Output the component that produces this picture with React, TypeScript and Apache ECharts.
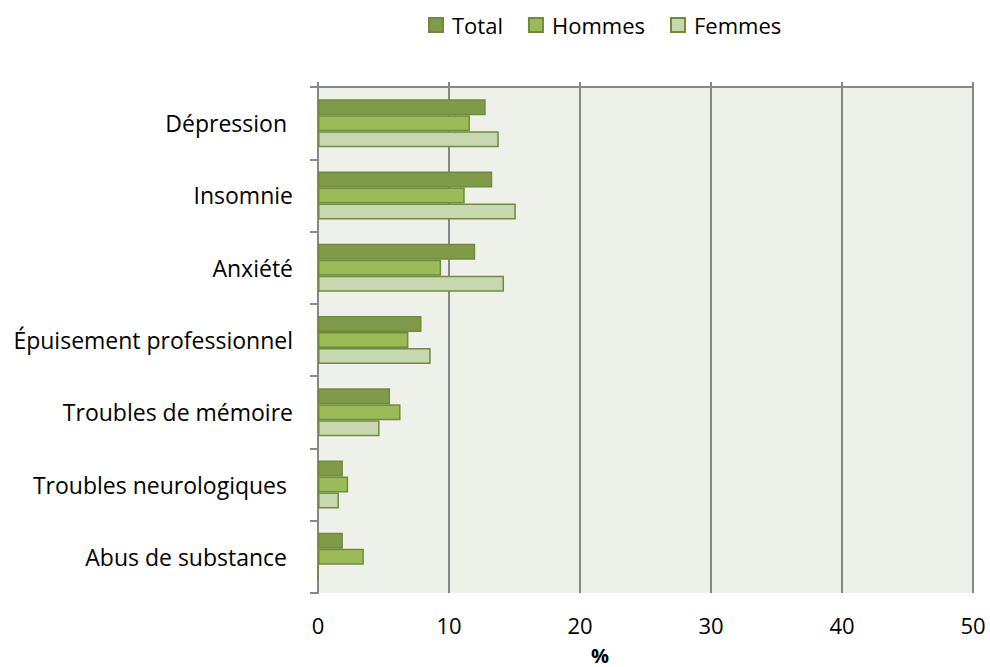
import React, { useEffect, useRef } from "react";
import * as echarts from "echarts";

const categories = [
  "Dépression",
  "Insomnie",
  "Anxiété",
  "Épuisement professionnel",
  "Troubles de mémoire",
  "Troubles neurologiques",
  "Abus de substance",
];
const totalValues = [12.8, 13.3, 12.0, 7.9, 5.5, 1.9, 1.9];
const hommesValues = [11.6, 11.2, 9.4, 6.9, 6.3, 2.3, 3.5];
const femmesValues = [13.8, 15.1, 14.2, 8.6, 4.7, 1.6, 0];
const seriesNames = ["Total", "Hommes", "Femmes"];
const xTicks = { min: 0, max: 50, interval: 10 };
const xName = "%";
const paddedLabels = ["Dépression", "Troubles neurologiques", "Abus de substance"];

const FONT = "'Open Sans', sans-serif";
const GRAY = "#878787";
const BORDER = "#6F8B3E";
const FS = 22;
const FSY = 23;

export default function App() {
  const ref = useRef<HTMLDivElement>(null);
  useEffect(() => {
    if (!ref.current) return;
    const chart = echarts.init(ref.current, undefined, { renderer: "svg" });
    const colors = ["#7F9A48", "#9BBB59", "#C7D7AF"];
    const data = [totalValues, hommesValues, femmesValues];
    chart.setOption({
      animation: false,
      textStyle: { fontFamily: FONT },
      legend: {
        top: 9,
        left: 423,
        itemWidth: 14,
        itemHeight: 14,
        itemGap: 25,
        icon: "rect",
        textStyle: { fontSize: FS, color: "#000", fontFamily: FONT, padding: [0, 0, 0, 4] },
        data: seriesNames,
      },
      grid: {
        left: 318,
        right: 17,
        top: 87,
        bottom: 74,
        show: true,
        backgroundColor: "#EEF1E9",
        borderWidth: 0,
      },
      xAxis: [
        {
          type: "value",
          min: xTicks.min,
          max: xTicks.max,
          interval: xTicks.interval,
          axisLine: { show: false },
          axisTick: { show: false },
          axisLabel: { fontSize: FS, color: "#000", margin: 21, fontFamily: FONT },
          splitLine: { show: true, lineStyle: { color: GRAY, width: 2 } },
        },
        {
          type: "value",
          position: "top",
          min: xTicks.min,
          max: xTicks.max,
          interval: xTicks.interval,
          axisLine: { show: true, lineStyle: { color: GRAY, width: 2 } },
          axisTick: { show: true, inside: false, length: 5, lineStyle: { color: GRAY, width: 2 } },
          axisLabel: { show: false },
          splitLine: { show: false },
        },
      ],
      yAxis: {
        type: "category",
        inverse: true,
        data: categories,
        axisLine: { show: true, lineStyle: { color: GRAY, width: 2 } },
        axisTick: { show: true, length: 8, lineStyle: { color: GRAY, width: 2 } },
        axisLabel: {
          fontSize: FSY,
          color: "#000",
          margin: 25,
          fontFamily: FONT,
          formatter: (v: string) => (paddedLabels.includes(v) ? `{p|${v}}` : v),
          rich: { p: { fontSize: FSY, color: "#000", fontFamily: FONT, padding: [0, 6, 0, 0] } },
        },
        splitLine: { show: false },
      },
      series: seriesNames.map((name, i) => ({
        name,
        type: "bar",
        xAxisIndex: 0,
        data: data[i],
        barWidth: 16,
        barGap: "0%",
        itemStyle: { color: colors[i], borderColor: BORDER, borderWidth: 1.5 },
      })),
      graphic: [
        {
          type: "text",
          x: 600,
          y: 655,
          style: {
            text: xName,
            fontSize: 20,
            fontWeight: "bold",
            fill: "#000",
            fontFamily: FONT,
            align: "center",
            verticalAlign: "middle",
          },
        },
      ],
    });
    return () => chart.dispose();
  }, []);
  return (
    <div
      ref={ref}
      style={{ position: "absolute", left: 0, top: 0, width: 990, height: 667, background: "#fff" }}
    />
  );
}
